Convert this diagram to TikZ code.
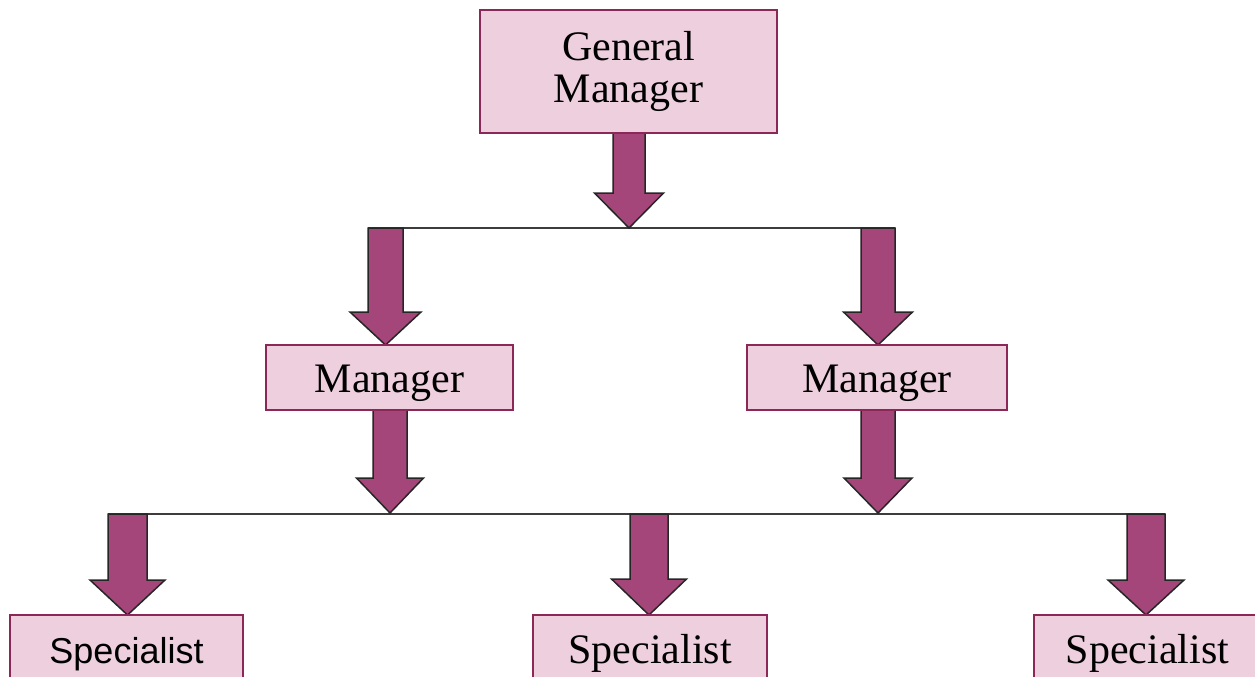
\documentclass[tikz,border=0pt]{standalone}
\usepackage{fontspec}
\setmainfont{Liberation Serif}
\newfontfamily\arialfont{Liberation Sans}
\definecolor{boxfill}{RGB}{238,207,222}
\definecolor{boxline}{RGB}{140,40,88}
\definecolor{arrfill}{RGB}{165,70,122}
\definecolor{linegray}{RGB}{60,60,60}
% #1 cx, #2 top, #3 head start, #4 tip, #5 shaft half width, #6 head half width
\newcommand\blockarr[6]{%
  \draw[arrowshape] (#1-#5,#2) -- (#1+#5,#2) -- (#1+#5,#3) -- (#1+#6,#3) -- (#1,#4) -- (#1-#6,#3) -- (#1-#5,#3) -- cycle;}
\begin{document}
\begin{tikzpicture}[x=1pt,y=-1pt,
  box/.style={draw=boxline, fill=boxfill, line width=1.5pt, inner sep=0pt},
  serif42/.style={font=\fontsize{42}{42}\selectfont},
  sans36/.style={font=\arialfont\fontsize{36}{36}\selectfont},
  arrowshape/.style={draw=black!85, fill=arrfill, line width=1.5pt, line join=miter},
  hline/.style={draw=linegray, line width=1.8pt}]
\useasboundingbox (0,0) rectangle (1255,677);
\clip (0,0) rectangle (1255,677);
% horizontal connectors
\coordinate (l1a) at (368,228);
\coordinate (l1b) at (895,228);
\coordinate (l2a) at (108,514);
\coordinate (l2b) at (1165,514);
\draw[hline] (l1a) -- (l1b);
\draw[hline] (l2a) -- (l2b);
% block arrows
\blockarr{629}{132}{193}{228}{16}{34.5}
\blockarr{385.5}{228}{312}{345}{17.5}{35.5}
\blockarr{878}{228}{312}{345}{17}{34.5}
\blockarr{390}{410}{478}{513}{17}{33.5}
\blockarr{878}{410}{478}{513}{17}{34}
\blockarr{127.5}{514}{580}{615}{19.5}{37.5}
\blockarr{649}{514}{579}{615}{19}{37.5}
\blockarr{1146}{514}{580}{615}{19}{38}
% boxes
\node[box, serif42, minimum width=297pt, minimum height=123pt, align=center] (gm) at (628.5,71.5) {General\\Manager};
\node[box, serif42, minimum width=247pt, minimum height=65pt, text height=36pt, text depth=7pt] (m1) at (389.5,377.5) {Manager};
\node[box, serif42, minimum width=260pt, minimum height=65pt, text height=36pt, text depth=7pt] (m2) at (877,377.5) {Manager};
\node[box, sans36, minimum width=233pt, minimum height=100pt, text height=30pt, text depth=34pt] (s1) at (126.5,665) {Specialist};
\node[box, serif42, minimum width=234pt, minimum height=100pt, text height=30pt, text depth=34pt] (s2) at (650,665) {Specialist};
\node[box, serif42, minimum width=227pt, minimum height=100pt, text height=30pt, text depth=34pt] (s3) at (1147.5,665) {Specialist};
\end{tikzpicture}
\end{document}
